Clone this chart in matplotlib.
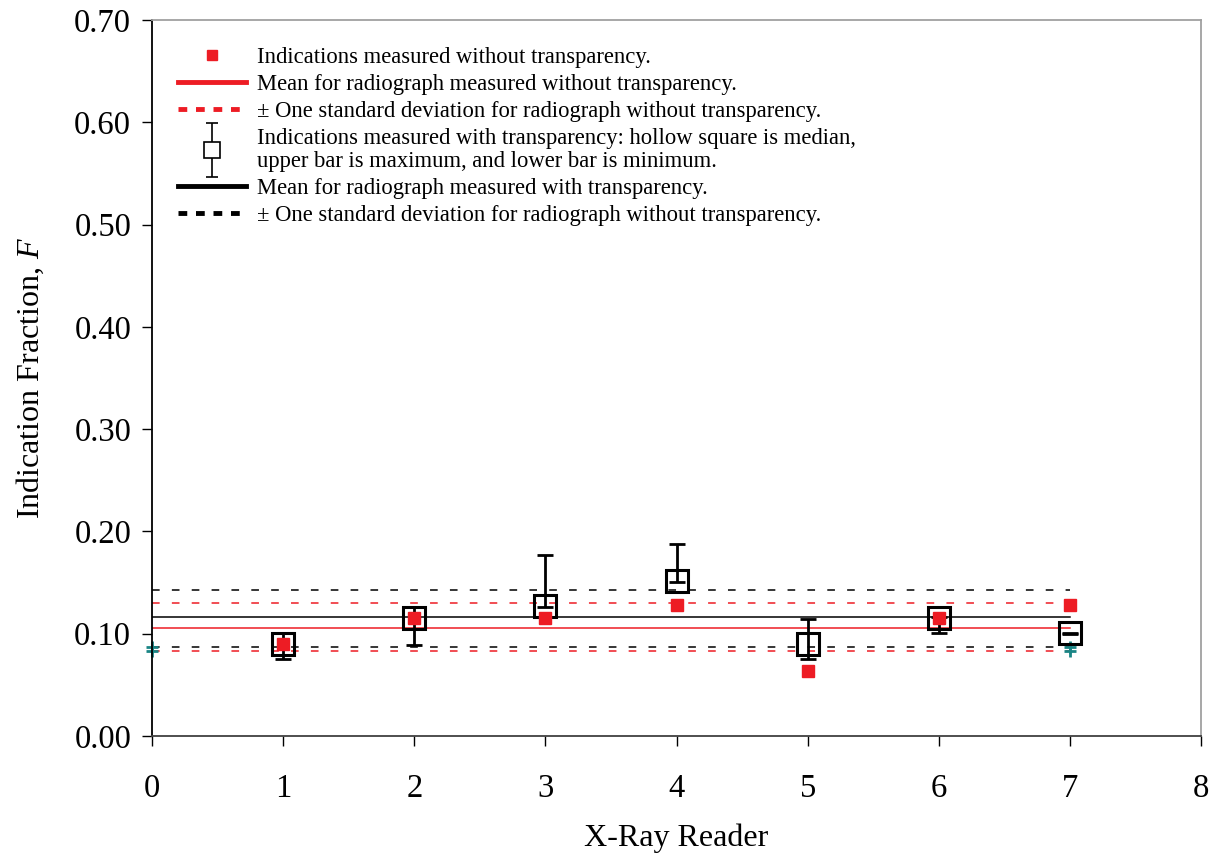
import numpy as np
import matplotlib
matplotlib.use("Agg")
import matplotlib.pyplot as plt
from matplotlib.lines import Line2D
from matplotlib.legend_handler import HandlerErrorbar

# readers
readers = [1, 2, 3, 4, 5, 6, 7]
# indication fraction measured without transparency
f_without = [0.090, 0.115, 0.115, 0.128, 0.064, 0.115, 0.128]
# with transparency: median, maximum, minimum
f_median = [0.090, 0.115, 0.127, 0.152, 0.090, 0.115, 0.101]
f_max = [0.101, 0.126, 0.177, 0.188, 0.114, 0.116, 0.100]
f_min = [0.075, 0.089, 0.126, 0.151, 0.075, 0.101, 0.100]

# means and +/- one standard deviation
line_x = [0, 7]
mean_without = 0.106
sd_without = [0.130, 0.083]
mean_with = 0.116
sd_with = [0.143, 0.087]

RED = "#ed1c24"
TEAL = "#1a8585"

plt.rcParams["font.family"] = ["Liberation Serif", "DejaVu Serif"]
plt.rcParams["mathtext.fontset"] = "custom"
plt.rcParams["mathtext.it"] = "Liberation Serif:italic"

fig = plt.figure(figsize=(12.12, 8.55), dpi=100)
ax = fig.add_axes([152 / 1212, 119 / 855, 1049 / 1212, 716 / 855])

# mean lines
ax.plot(line_x, [mean_with] * 2, color="black", lw=1.1)
ax.plot(line_x, [mean_without] * 2, color=RED, lw=1.1)
for v in sd_with:
    ax.plot(line_x, [v] * 2, color="black", lw=1.1, dashes=(5, 8))
for v in sd_without:
    ax.plot(line_x, [v] * 2, color=RED, lw=1.1, dashes=(5, 8))
ax.plot(line_x, [sd_with[1]] * 2, ls="none", marker="+", ms=8, mew=2,
        color=TEAL, clip_on=False)
ax.plot(line_x, [sd_without[1]] * 2, ls="none", marker="+", ms=8, mew=2,
        color=TEAL, clip_on=False)

# with transparency: median squares + min/max bars
med = np.array(f_median)
yerr = [med - np.array(f_min), np.array(f_max) - med]
yerr = [np.clip(yerr[0], 0, None), np.clip(yerr[1], 0, None)]
ax.errorbar(readers, med, yerr=yerr, fmt="none", ecolor="black",
            elinewidth=2, capsize=6, capthick=2, zorder=3)
ax.plot(readers, med, ls="none", marker="s", ms=16.5, mfc="none",
        mec="black", mew=2.2, zorder=4)

# without transparency
ax.plot(readers, f_without, ls="none", marker="s", ms=8.5, color=RED, zorder=5)

ax.set_xlim(0, 8)
ax.set_ylim(0, 0.70)
ax.set_xticks(range(0, 9))
ax.set_yticks(np.arange(0, 0.71, 0.1))
ax.set_yticklabels(["%.2f" % v for v in np.arange(0, 0.71, 0.1)])
ax.tick_params(axis="both", direction="out", length=7, width=1, labelsize=23.5)
ax.tick_params(axis="y", pad=8)
ax.tick_params(axis="x", pad=20)
ax.spines["left"].set_color("black")
ax.spines["bottom"].set_color("#404040")
ax.spines["top"].set_color("#a0a0a0")
ax.spines["right"].set_color("#a0a0a0")
for s in ax.spines.values():
    s.set_linewidth(1.3)

ax.set_xlabel("X-Ray Reader", fontsize=23, labelpad=14)
ax.set_ylabel("Indication Fraction, $\\mathit{F}$", fontsize=23, labelpad=20)

# legend
proxy_eb = ax.errorbar([np.nan], [np.nan], yerr=[[np.nan], [np.nan]], fmt="s",
                       ms=11, mfc="white", mec="black", mew=1.2,
                       ecolor="black", elinewidth=1.2, capsize=4, capthick=1.2)
handles = [
    Line2D([], [], ls="none", marker="s", ms=7, color=RED),
    Line2D([], [], color=RED, lw=3.5),
    Line2D([], [], color=RED, lw=3.5, dashes=(1.8, 1.8)),
    proxy_eb,
    Line2D([], [], color="black", lw=3.5),
    Line2D([], [], color="black", lw=3.5, dashes=(1.8, 1.8)),
]
labels = [
    "Indications measured without transparency.",
    "Mean for radiograph measured without transparency.",
    "\u00b1 One standard deviation for radiograph without transparency.",
    "Indications measured with transparency: hollow square is median,\n"
    "upper bar is maximum, and lower bar is minimum.",
    "Mean for radiograph measured with transparency.",
    "\u00b1 One standard deviation for radiograph without transparency.",
]
leg = ax.legend(handles, labels, loc="upper left", bbox_to_anchor=(0.025, 0.962),
                frameon=False, fontsize=16.3, handlelength=3.0, handletextpad=0.5,
                labelspacing=0.26, borderpad=0, borderaxespad=0, numpoints=1,
                handler_map={type(proxy_eb): HandlerErrorbar(yerr_size=1.2)})
for t in leg.get_texts():
    t.set_linespacing(1.15)

fig.savefig("out.png", dpi=100)
